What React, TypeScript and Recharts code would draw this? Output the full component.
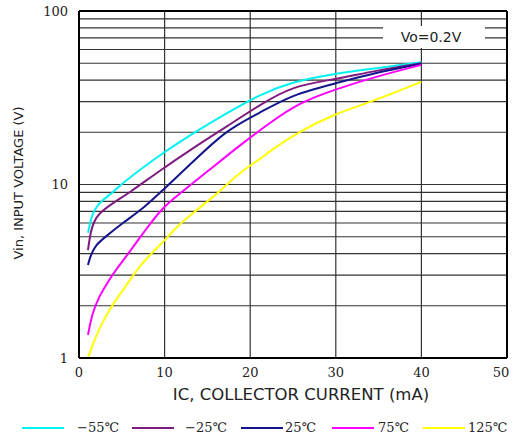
import React from 'react';
import { LineChart, Line, XAxis, YAxis, CartesianGrid, Legend, ReferenceLine, Customized } from 'recharts';

// axis ticks
const xTicks = [0, 10, 20, 30, 40, 50];
const yTicks = [1, 2, 3, 4, 5, 6, 7, 8, 9, 10, 20, 30, 40, 50, 60, 70, 80, 90, 100];
const yLabels = [1, 10, 100];

// IC (mA) vs Vin (V)
const minus55 = [
  { ic: 1.05, vin: 5.27 }, { ic: 1.36, vin: 6.24 }, { ic: 1.74, vin: 7.13 }, { ic: 2.7, vin: 8.14 },
  { ic: 3.88, vin: 8.9 }, { ic: 4.85, vin: 10 }, { ic: 9.42, vin: 14.8 }, { ic: 13.3, vin: 19.7 },
  { ic: 17.2, vin: 25.7 }, { ic: 21, vin: 32.8 }, { ic: 24.9, vin: 39.1 }, { ic: 30, vin: 43.7 },
  { ic: 34.6, vin: 46.7 }, { ic: 40, vin: 50.6 },
];
const minus25 = [
  { ic: 1.05, vin: 4.19 }, { ic: 1.36, vin: 5.35 }, { ic: 1.74, vin: 6.1 }, { ic: 2.33, vin: 6.82 },
  { ic: 3.88, vin: 7.79 }, { ic: 5.8, vin: 8.9 }, { ic: 9.42, vin: 12.0 }, { ic: 13.3, vin: 16.2 },
  { ic: 17.2, vin: 21.5 }, { ic: 21, vin: 28.5 }, { ic: 24.9, vin: 37.0 }, { ic: 30, vin: 40.4 },
  { ic: 34.6, vin: 45.3 }, { ic: 40, vin: 50 },
];
const plus25 = [
  { ic: 1.05, vin: 3.44 }, { ic: 1.36, vin: 3.92 }, { ic: 1.94, vin: 4.48 }, { ic: 3.1, vin: 5.0 },
  { ic: 5.04, vin: 5.97 }, { ic: 7.75, vin: 7.45 }, { ic: 9.6, vin: 9.1 }, { ic: 13.3, vin: 13.5 },
  { ic: 17.2, vin: 20.6 }, { ic: 21, vin: 25.7 }, { ic: 24.9, vin: 33.0 }, { ic: 30, vin: 38.3 },
  { ic: 34.6, vin: 44.1 }, { ic: 40, vin: 49.6 },
];
const plus75 = [
  { ic: 1.05, vin: 1.36 }, { ic: 1.55, vin: 1.81 }, { ic: 2.33, vin: 2.26 }, { ic: 3.5, vin: 2.81 },
  { ic: 4.3, vin: 3.22 }, { ic: 5.8, vin: 4.01 }, { ic: 7.75, vin: 5.47 }, { ic: 9.7, vin: 7.29 },
  { ic: 11.3, vin: 8.5 }, { ic: 15.2, vin: 12.1 }, { ic: 19.1, vin: 17.3 }, { ic: 22.2, vin: 22.5 },
  { ic: 25.7, vin: 29.6 }, { ic: 30, vin: 35.4 }, { ic: 34.6, vin: 41.8 }, { ic: 40, vin: 48.9 },
];
const plus125 = [
  { ic: 1.05, vin: 1.0 }, { ic: 1.94, vin: 1.33 }, { ic: 2.9, vin: 1.66 }, { ic: 3.88, vin: 2.02 },
  { ic: 5.43, vin: 2.58 }, { ic: 6.78, vin: 3.22 }, { ic: 7.75, vin: 3.7 }, { ic: 10, vin: 4.75 },
  { ic: 11.6, vin: 5.84 }, { ic: 13.3, vin: 6.82 }, { ic: 15.2, vin: 8.14 }, { ic: 16.4, vin: 9.1 },
  { ic: 19.1, vin: 12.1 }, { ic: 21, vin: 13.8 }, { ic: 22.2, vin: 15.5 }, { ic: 25.7, vin: 20.2 },
  { ic: 30, vin: 25.7 }, { ic: 34.2, vin: 30 }, { ic: 40, vin: 39.1 },
];

const series = [
  { name: '−55℃', color: '#00f2f2', data: minus55 },
  { name: '−25℃', color: '#7f1a7f', data: minus25 },
  { name: '25℃', color: '#14148c', data: plus25 },
  { name: '75℃', color: '#ff00ff', data: plus75 },
  { name: '125℃', color: '#ffff00', data: plus125 },
];

// legend item placement (line start, text start)
const legendLineLeft = [22, 132, 241, 332, 423];
const legendTextLeft = [77, 185, 285, 378, 468];

const gridColor = '#333';

const XTitle = () => (
  <text x={301} y={400} textAnchor="middle" fontFamily="DejaVu Sans" fontSize={16.5} fill="#222">
    IC, COLLECTOR CURRENT (mA)
  </text>
);

const YTitle = () => (
  <text x={18} y={183} transform="rotate(-90 18 183)" textAnchor="middle" dominantBaseline="central"
    fontFamily="DejaVu Sans" fontSize={13} fill="#222">
    Vin, INPUT VOLTAGE (V)
  </text>
);

const XTick = (props: any) => {
  const { x, y, payload } = props;
  const shift = payload.value === 50 ? -4 : 0;
  return (
    <text x={x + shift} y={y} dy="0.71em" textAnchor="middle" fontFamily="DejaVu Serif" fontSize={13} fill="#222">
      {payload.value}
    </text>
  );
};

const VoNote = () => (
  <g>
    <rect x={383} y={26} width={102} height={22} fill="#fff" />
    <text x={431} y={37} textAnchor="middle" dominantBaseline="central" fontFamily="DejaVu Sans" fontSize={14} fill="#222">
      Vo=0.2V
    </text>
  </g>
);

const LegendRow = () => (
  <div style={{ position: 'relative', width: 513, height: 16 }}>
    {series.map((s, i) => (
      <React.Fragment key={s.name}>
        <svg width={42} height={4} style={{ position: 'absolute', left: legendLineLeft[i], top: 6 }}>
          <line x1={0} y1={2} x2={42} y2={2} stroke={s.color} strokeWidth={2} />
        </svg>
        <span style={{ position: 'absolute', left: legendTextLeft[i], top: 0, whiteSpace: 'nowrap',
          fontFamily: 'DejaVu Serif', fontSize: 13, color: '#222', lineHeight: '16px' }}>
          {s.name}
        </span>
      </React.Fragment>
    ))}
  </div>
);

export default function App() {
  return (
    <div style={{ position: 'absolute', left: 0, top: 0 }}>
      <LineChart width={513} height={435} margin={{ top: 11, right: 6, left: 0, bottom: 0 }}>
        <CartesianGrid stroke={gridColor} strokeWidth={1.2} />
        <XAxis
          type="number"
          dataKey="ic"
          domain={[0, 50]}
          ticks={xTicks}
          allowDataOverflow
          height={77}
          tickLine={false}
          tickSize={8}
          tickMargin={2}
          axisLine={{ stroke: '#000', strokeWidth: 2 }}
          tick={<XTick />}
          label={<XTitle />}
        />
        <YAxis
          type="number"
          dataKey="vin"
          scale="log"
          domain={[1, 100]}
          ticks={yTicks}
          allowDataOverflow
          width={79}
          tickLine={false}
          tickSize={8}
          tickMargin={3}
          interval={0}
          tickFormatter={(v: number) => (yLabels.includes(v) ? String(v) : '')}
          axisLine={{ stroke: '#000', strokeWidth: 2 }}
          tick={{ fontFamily: 'DejaVu Serif', fontSize: 13, fill: '#222' }}
          label={<YTitle />}
        />
        <ReferenceLine y={100} stroke="#000" strokeWidth={2} />
        <ReferenceLine x={50} stroke="#000" strokeWidth={2} />
        <Customized component={VoNote} />
        {series.map(s => (
          <Line
            key={s.name}
            data={s.data}
            dataKey="vin"
            name={s.name}
            type="basis"
            stroke={s.color}
            strokeWidth={2}
            dot={false}
            isAnimationActive={false}
          />
        ))}
        <Legend
          verticalAlign="middle"
          content={<LegendRow />}
          wrapperStyle={{ left: 0, top: 420, width: 513 }}
        />
      </LineChart>
    </div>
  );
}
